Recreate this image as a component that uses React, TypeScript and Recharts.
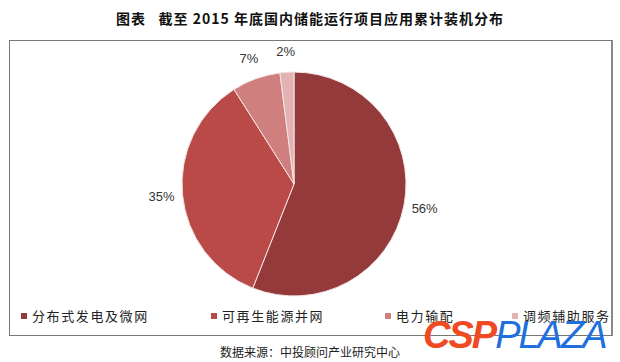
import React from "react";
import { PieChart, Pie, Cell, Legend } from "recharts";

const categories = ["分布式发电及微网", "可再生能源并网", "电力输配", "调频辅助服务"];
const shares = [56, 35, 7, 2];
const colors = ["#953a3a", "#b94a48", "#cf7f7d", "#e3b3b3"];

const data = categories.map((name, i) => ({ name, value: shares[i] }));

const RADIAN = Math.PI / 180;
const legendX = [13, 203, 377, 504];

const renderLabel = (props: any) => {
  const { cx, cy, midAngle, outerRadius, value } = props;
  const r = outerRadius + 21;
  const x = cx + r * Math.cos(-midAngle * RADIAN);
  const y = cy + r * Math.sin(-midAngle * RADIAN);
  return (
    <text
      x={x}
      y={y}
      fill="#333"
      textAnchor="middle"
      dominantBaseline="central"
      fontSize={13}
      fontFamily="Liberation Sans, Arial, sans-serif"
    >
      {value}%
    </text>
  );
};

const renderLegend = () => (
  <div style={{ position: "relative", width: 620, height: 20 }}>
    {data.map((d, i) => (
      <div
        key={d.name}
        style={{
          position: "absolute",
          left: legendX[i],
          top: 0,
          display: "flex",
          alignItems: "center",
          fontFamily: "'Noto Sans CJK SC', sans-serif",
          fontSize: 13,
          letterSpacing: 1.6,
          color: "#222",
        }}
      >
        <span style={{ width: 6, height: 6, background: colors[i], marginRight: 5, display: "inline-block" }} />
        {d.name}
      </div>
    ))}
  </div>
);

export default function App() {
  return (
    <div style={{ position: "absolute", left: 0, top: 0, width: 620, height: 362, background: "#fff", overflow: "hidden" }}>
      <div
        style={{
          position: "absolute",
          left: 0,
          top: 8,
          width: 620,
          textAlign: "center",
          fontFamily: "'Noto Sans CJK SC', sans-serif",
          fontWeight: 700,
          fontSize: 14,
          color: "#111",
          letterSpacing: 1,
        }}
      >
        图表&nbsp;&nbsp;&nbsp;截至 2015 年底国内储能运行项目应用累计装机分布
      </div>
      <div
        style={{
          position: "absolute",
          left: 9,
          top: 40,
          width: 604,
          height: 296,
          border: "1px solid #777",
          boxSizing: "border-box",
          borderRight: "2px solid #888",
        }}
      />
      <div style={{ position: "absolute", left: 0, top: 0 }}>
        <PieChart width={620} height={362}>
          <Pie
            data={data}
            dataKey="value"
            nameKey="name"
            cx={289}
            cy={179}
            outerRadius={112}
            startAngle={90}
            endAngle={-270}
            stroke="#f4e4e4"
            strokeWidth={1}
            label={renderLabel}
            labelLine={false}
            isAnimationActive={false}
          >
            {data.map((d, i) => (
              <Cell key={d.name} fill={colors[i]} />
            ))}
          </Pie>
          <Legend content={renderLegend} wrapperStyle={{ left: 8, top: 306, width: 620 }} />
        </PieChart>
      </div>
      <div
        style={{
          position: "absolute",
          left: 0,
          top: 343,
          width: 620,
          textAlign: "center",
          fontFamily: "'Noto Sans CJK SC', sans-serif",
          fontSize: 12,
          color: "#222",
        }}
      >
        数据来源：中投顾问产业研究中心
      </div>
      <div
        style={{
          position: "absolute",
          left: 423,
          top: 316,
          fontFamily: "'Liberation Sans', Arial, sans-serif",
          fontStyle: "italic",
          fontSize: 38,
          lineHeight: "38px",
          whiteSpace: "nowrap",
        }}
      >
        <span style={{ color: "#f04a23", fontWeight: 900, letterSpacing: -2 }}>CSP</span>
        <span style={{ color: "#1f6fe0", fontWeight: 400, letterSpacing: -2 }}>PLAZA</span>
      </div>
    </div>
  );
}
